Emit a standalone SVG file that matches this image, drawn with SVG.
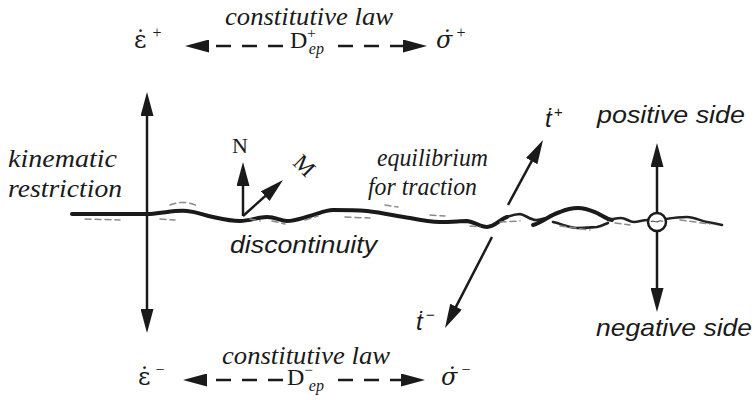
<svg xmlns="http://www.w3.org/2000/svg" width="755" height="400" viewBox="0 0 755 400">
<defs>
<style>
.serif{font-family:"Liberation Serif","Times New Roman",serif;fill:#1a1a1a}
.it{font-style:italic}
.dv{font-family:"DejaVu Serif",serif}
.sans{font-family:"Liberation Sans",Arial,sans-serif;font-style:italic;fill:#1a1a1a}
.ln{stroke:#1a1a1a;stroke-width:2.5;fill:none}
.dash{stroke:#1a1a1a;stroke-width:2.6;fill:none;stroke-dasharray:15 11}
.wave{stroke:#1a1a1a;stroke-width:4;fill:none;stroke-linecap:round;stroke-linejoin:round}
.thin{stroke:#222;stroke-width:2.6;fill:none;stroke-linecap:round}
.grey{stroke:#8a8a8a;stroke-width:1.5;fill:none;stroke-dasharray:6 4;stroke-linecap:round}
</style>
<marker id="ah" viewBox="0 0 24 13" refX="14" refY="6.5" markerWidth="24" markerHeight="13" markerUnits="userSpaceOnUse" orient="auto-start-reverse">
<path d="M0,0 L24,6.5 L0,13 z" fill="#1a1a1a"/>
</marker>
</defs>

<g id="connectors">
<line class="ln" x1="147" y1="102" x2="147" y2="323" marker-start="url(#ah)" marker-end="url(#ah)"/>
<line class="ln" x1="243" y1="216" x2="243" y2="172" marker-end="url(#ah)"/>
<line class="ln" x1="243" y1="216" x2="275.6" y2="186.7" marker-end="url(#ah)"/>
<line class="ln" x1="508" y1="205" x2="538.3" y2="148.8" marker-end="url(#ah)"/>
<line class="ln" x1="492" y1="237" x2="449.6" y2="319.1" marker-end="url(#ah)"/>
<line class="ln" x1="657" y1="213" x2="657" y2="153" marker-end="url(#ah)"/>
<line class="ln" x1="657" y1="231" x2="657" y2="302" marker-end="url(#ah)"/>
<line class="dash" x1="283" y1="46" x2="195" y2="46" marker-end="url(#ah)"/>
<line class="dash" x1="338" y1="46" x2="417" y2="46" marker-end="url(#ah)"/>
<line class="dash" x1="283" y1="380" x2="193" y2="380" marker-end="url(#ah)"/>
<line class="dash" x1="338" y1="380" x2="415" y2="380" marker-end="url(#ah)"/>
</g>

<g id="discontinuity-line">
<path class="wave" d="M72,214 L150,214 C165,213 175,210 187,211 C198,212 203,215 213,217 C222,219 230,221 240,221 C250,221 258,217 267,217 C276,217 280,221 287,221 C295,221 302,218 310,216 C318,214 325,210 333,210 C345,210 355,210 367,211 C385,213 395,216 410,218 C420,220 430,222 440,222 C452,222 460,221 467,221 C475,222 480,227 487,227 C495,227 500,219 507,217"/>
<path class="thin" d="M507,217 C512,215 516,214 520,214 C526,215 530,220 536,220 C541,220 543,218 547,218"/>
<path class="wave" d="M533,225 C543,222 550,215 560,212 C567,209 573,208 578,208 C586,208 592,211 597,213 C603,216 606,219 612,220"/>
<path class="thin" d="M553,222 C562,224 570,228 577,228 C587,228 593,227 597,227 C602,226 605,224 608,223"/>
<path class="thin" d="M608,220 C614,219 617,218 621,218 C626,218 629,222 634,222 C639,222 642,220 648,220"/>
<path class="thin" d="M666,219 C672,218 678,217 687,217 C695,217 700,221 707,222 C713,223 718,224 722,225"/>
<path class="grey" d="M85,219 L120,220 M160,219 L175,220 M170,205 C180,201 190,202 197,206 M250,219 L260,221 M272,221 L285,224 M305,220 L318,216 M345,217 L370,218 M385,205 L398,207 M430,215 L445,216 M470,226 L480,227 M500,222 L520,221 M560,226 L590,230 M615,223 L630,225 M680,220 L710,224"/>
<circle cx="657" cy="222" r="9" fill="#fff" stroke="#1a1a1a" stroke-width="2.5"/>
<path d="M651,222 C653,219 656,224 659,221 C661,220 662,222 663,221" stroke="#555" stroke-width="1.2" fill="none"/>
</g>

<g id="top-law">
<text class="serif it" x="225" y="25" font-size="26" textLength="168" lengthAdjust="spacingAndGlyphs">constitutive law</text>
<text class="serif" x="134" y="48" font-size="24"><tspan class="dv">ε̇</tspan><tspan font-size="16" dx="6" dy="-10">+</tspan></text>
<text class="serif" x="290" y="48" font-size="24">D<tspan font-size="15" dy="-10">+</tspan><tspan font-size="16" font-style="italic" dx="-7" dy="16">ep</tspan></text>
<text class="serif" x="436" y="48" font-size="24"><tspan class="dv" font-style="italic">σ̇</tspan><tspan font-size="16" dx="4" dy="-10">+</tspan></text>
</g>

<g id="bottom-law">
<text class="serif it" x="222" y="364" font-size="26" textLength="168" lengthAdjust="spacingAndGlyphs">constitutive law</text>
<text class="serif" x="138" y="385" font-size="24"><tspan class="dv">ε̇</tspan><tspan font-size="16" dx="5" dy="-10">−</tspan></text>
<text class="serif" x="287" y="385" font-size="24">D<tspan font-size="15" dy="-10">−</tspan><tspan font-size="16" font-style="italic" dx="-4" dy="16">ep</tspan></text>
<text class="serif" x="441" y="385" font-size="24"><tspan class="dv" font-style="italic">σ̇</tspan><tspan font-size="16" dx="4" dy="-10">−</tspan></text>
</g>

<g id="kinematic">
<text class="serif it" x="8" y="167" font-size="25" textLength="109" lengthAdjust="spacingAndGlyphs">kinematic</text>
<text class="serif it" x="8" y="197" font-size="25" textLength="114" lengthAdjust="spacingAndGlyphs">restriction</text>
</g>

<g id="equilibrium">
<text class="serif it" x="377" y="166" font-size="25" textLength="111" lengthAdjust="spacingAndGlyphs">equilibrium</text>
<text class="serif it" x="368" y="195" font-size="25" textLength="109" lengthAdjust="spacingAndGlyphs">for traction</text>
</g>

<g id="normal-N">
<text class="serif" x="232" y="153" font-size="22">N</text>
</g>
<g id="normal-M">
<text class="serif" x="0" y="0" font-size="23" text-anchor="middle" transform="translate(299,171) rotate(45)">M</text>
</g>

<g id="discontinuity">
<text class="sans" x="230" y="253" font-size="24" textLength="147" lengthAdjust="spacingAndGlyphs">discontinuity</text>
</g>

<g id="t-plus">
<text class="sans" x="545" y="127" font-size="24">ṫ<tspan font-size="15" dx="2" dy="-10">+</tspan></text>
</g>
<g id="t-minus">
<text class="sans" x="416" y="330" font-size="24">ṫ<tspan font-size="15" dx="3" dy="-10">−</tspan></text>
</g>

<g id="positive-side">
<text class="sans" x="597" y="123" font-size="24" textLength="148" lengthAdjust="spacingAndGlyphs">positive side</text>
</g>
<g id="negative-side">
<text class="sans" x="596" y="336" font-size="24" textLength="156" lengthAdjust="spacingAndGlyphs">negative side</text>
</g>
</svg>
